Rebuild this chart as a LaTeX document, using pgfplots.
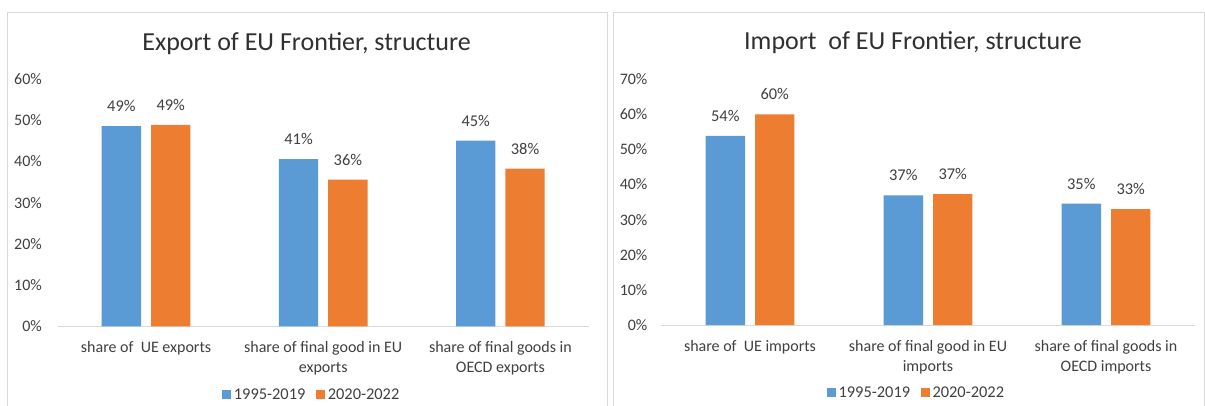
\documentclass[border=0pt]{standalone}
\usepackage{pgfplots}
\pgfplotsset{compat=1.18}
\usepackage{fontspec}
\setmainfont{Carlito}
\definecolor{cblue}{HTML}{5B9BD5}
\definecolor{corange}{HTML}{ED7D31}
\definecolor{ctxt}{HTML}{404040}
\definecolor{cttl}{HTML}{303030}
\definecolor{cframe}{HTML}{D9D9D9}
\pgfplotsset{
  mybars/.style={
    scale only axis,
    ybar=7.5pt, bar width=29.5pt,
    xmin=-0.5, xmax=2.5, ymin=0,
    xtick={0,1,2},
    axis x line*=bottom, axis y line*=left,
    axis line style={-},
    y axis line style={draw=none},
    x axis line style={draw=cframe, line width=0.75pt},
    major tick length=0pt,
    tick label style={font=\fontsize{12}{15}\selectfont, text=ctxt},
    xticklabel style={align=center, anchor=north, inner sep=0pt, yshift=-11pt},
    yticklabel style={anchor=east, inner sep=0pt},
    nodes near coords, point meta=explicit symbolic,
    every node near coord/.append style={font=\fontsize{12.3}{14}\selectfont, text=ctxt, anchor=center, yshift=15pt},
    legend style={at={(0.479,-0.276)}, anchor=center, draw=none, fill=none,
      legend columns=2, font=\fontsize{12.3}{14}\selectfont, text=ctxt,
      /tikz/every even column/.append style={column sep=6pt}},
    legend image code/.code={\fill[##1] (0pt,-3.4pt) rectangle (6.8pt,3.4pt);},
  }
}
\begin{document}
\begin{tikzpicture}
\useasboundingbox (0,0) rectangle (903.75pt,303.75pt);
\fill[white] (0,0) rectangle (903.75pt,303.75pt);
\draw[cframe, line width=0.75pt] (5.85pt,-10pt) rectangle (455.25pt,294.75pt);
\draw[cframe, line width=0.75pt] (459.75pt,-10pt) rectangle (903pt,294.75pt);
\node[anchor=base, font=\fontsize{19.5}{22}\selectfont, text=cttl] at (229.9pt,266.25pt) {Export of EU Frontier, structure};
\node[anchor=base, font=\fontsize{19.5}{22}\selectfont, text=cttl] at (684.75pt,267pt) {Import\ \ of EU Frontier, structure};
\begin{axis}[mybars, at={(43.125pt,58.9pt)}, anchor=south west,
  width=398.6pt, height=185.5pt, ymax=60,
  ytick={0,10,20,30,40,50,60},
  yticklabels={0\%,10\%,20\%,30\%,40\%,50\%,60\%},
  yticklabel style={xshift=-11.5pt},
  xticklabels={share of\ \ UE exports, share of final good in EU\\exports, share of final goods in\\OECD exports}]
\addplot[fill=cblue, draw=none] coordinates {(0,48.6) [49\%] (1,40.6) [41\%] (2,45.1) [45\%]};
\addplot[fill=corange, draw=none] coordinates {(0,48.9) [49\%] (1,35.6) [36\%] (2,38.3) [38\%]};
\legend{1995-2019,2020-2022}
\end{axis}
\begin{axis}[mybars, at={(495.75pt,60pt)}, anchor=south west,
  width=400.5pt, height=184.3pt, ymax=70,
  ytick={0,10,20,30,40,50,60,70},
  yticklabels={0\%,10\%,20\%,30\%,40\%,50\%,60\%,70\%},
  yticklabel style={xshift=-10pt},
  xticklabels={share of\ \ UE imports, share of final good in EU\\imports, share of final goods in\\OECD imports}]
\addplot[fill=cblue, draw=none] coordinates {(0,53.9) [54\%] (1,36.9) [37\%] (2,34.6) [35\%]};
\addplot[fill=corange, draw=none] coordinates {(0,60.0) [60\%] (1,37.3) [37\%] (2,33.0) [33\%]};
\legend{1995-2019,2020-2022}
\end{axis}
\end{tikzpicture}
\end{document}
